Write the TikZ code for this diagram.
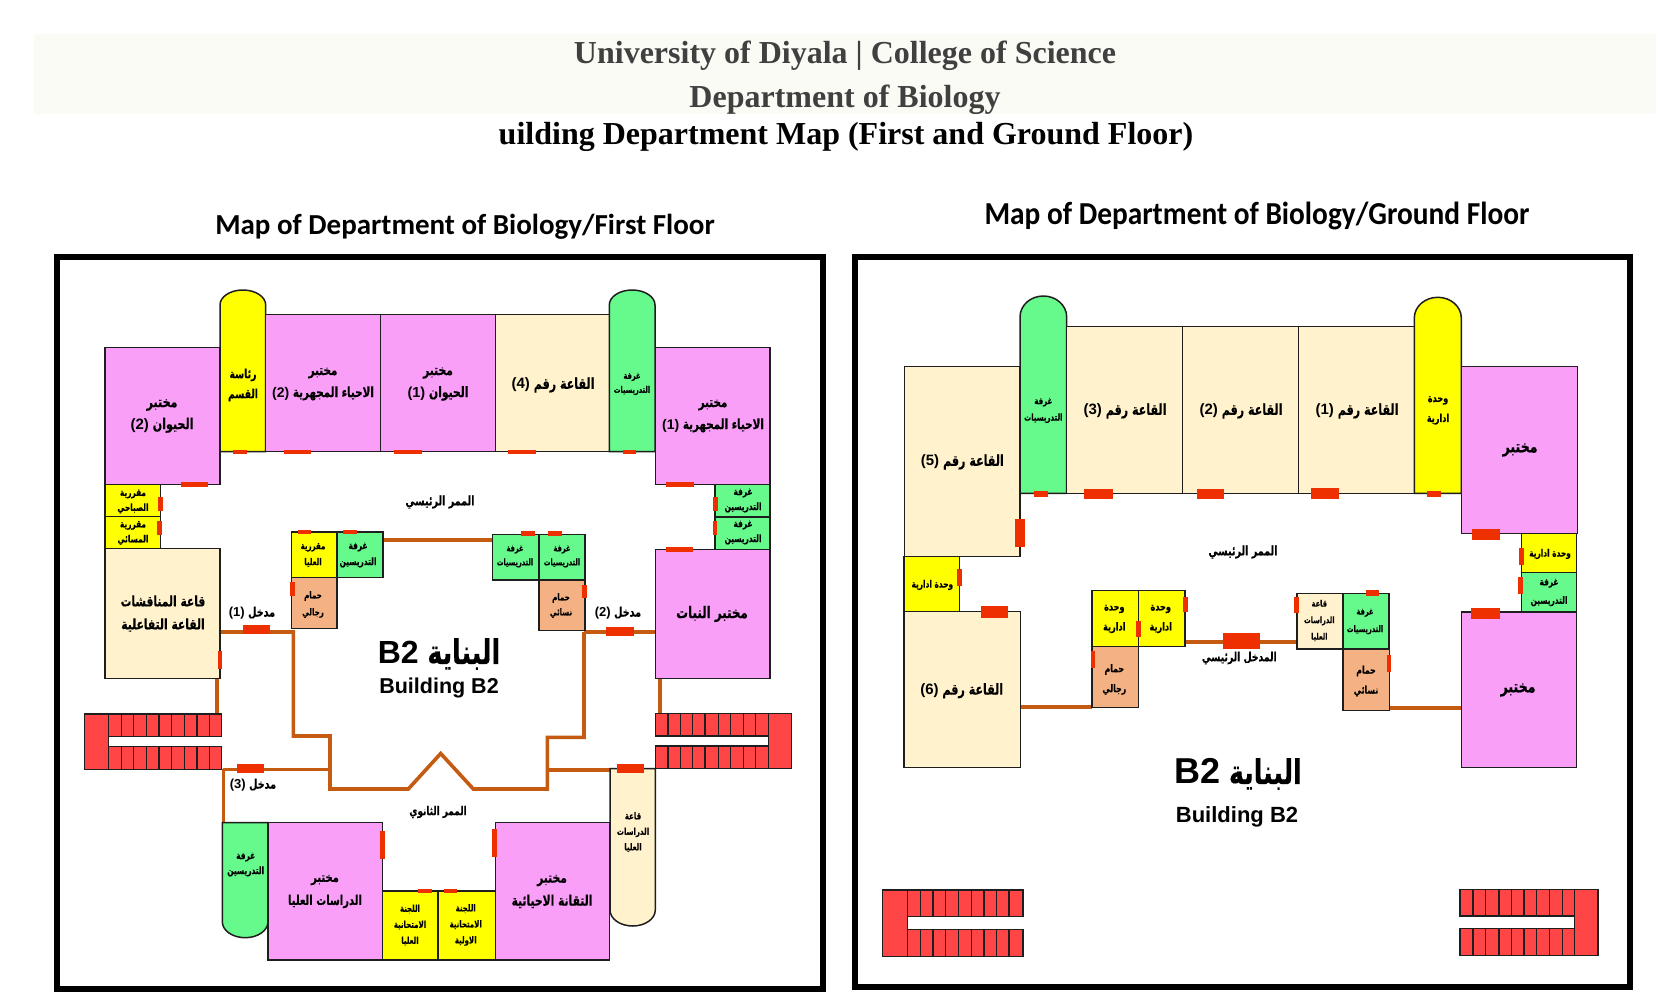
\documentclass[tikz,border=0pt]{standalone}
\usepackage{fontspec}
\usepackage{graphicx}
\TeXXeTstate=1
\setmainfont{Liberation Serif}
\newfontfamily\arfont[Script=Arabic,FakeStretch=0.74,FakeBold=0.3]{DejaVu Sans}
\newfontfamily\heros{Liberation Sans}
\newfontfamily\carlito{Carlito}
\definecolor{pinkroom}{HTML}{F99FF8}
\definecolor{creamroom}{HTML}{FFF2CC}
\definecolor{yellowroom}{HTML}{FFFF00}
\definecolor{greenroom}{HTML}{66F98B}
\definecolor{bathroom}{HTML}{F4B183}
\definecolor{stairred}{HTML}{FF4545}
\definecolor{doorred}{HTML}{EE3000}
\definecolor{corridor}{HTML}{C55A11}
\definecolor{band}{HTML}{FBFBF5}
\definecolor{wall}{HTML}{1E1E1E}
\tikzset{
  wallline/.style={draw=wall,line width=1.5pt},
  corr/.style={draw=corridor,line width=3.6pt,line join=miter},
  arlabel/.style={inner sep=0pt,align=center,text=black},
}
\newcommand{\R}[1]{\beginR #1\endR}
\newcommand{\N}[1]{\beginL{\heros\bfseries #1}\endL}
\newcount\lblno
\newcommand{\lblb}[5]{\global\advance\lblno by 1
  \node[arlabel,font=\arfont\bfseries\fontsize{#3}{#4}\selectfont] (lbl\the\lblno) at (#1,#2) {#5};}
\newcommand{\room}[5]{\path[wallline,fill=#5] (#1,#2) rectangle (#3,#4);}
\newcommand{\door}[4]{\fill[doorred] (#1,#2) rectangle (#3,#4);}
% capsule with dome at top: x1,ystart-of-dome,ytop,x2,ybottom,colour
\newcommand{\capup}[6]{\pgfmathsetmacro{\xm}{(#1+#4)/2}\pgfmathsetmacro{\rx}{(#4-#1)/2}\pgfmathsetmacro{\ry}{#2-#3}
  \pgfmathsetmacro{\ka}{#2-0.5523*\ry}\pgfmathsetmacro{\la}{\xm-0.5523*\rx}\pgfmathsetmacro{\lb}{\xm+0.5523*\rx}
  \path[wallline,fill=#6] (#1,#5) -- (#1,#2) .. controls (#1,\ka) and (\la,#3) .. (\xm,#3) .. controls (\lb,#3) and (#4,\ka) .. (#4,#2) -- (#4,#5) -- cycle;}
\newcommand{\steps}[3]{% y1, y2, list of x
  \foreach \sx [remember=\sx as \px (initially -1)] in {#3} {
    \ifdim\px pt>0pt \path[wallline,fill=stairred] (\px,#1) rectangle (\sx,#2);\fi }}
\begin{document}
\begin{tikzpicture}[x=1pt,y=-1pt]
\useasboundingbox (0,0) rectangle (1673,996);
\fill[white] (0,0) rectangle (1673,996);
% ---- header
\fill[band] (34,33.5) rectangle (1656,114);
\node[inner sep=0pt,text=black!75,font=\bfseries\fontsize{32}{32}\selectfont] (t1) at (845,56) {University of Diyala | College of Science};
\node[inner sep=0pt,text=black!75,font=\bfseries\fontsize{32}{32}\selectfont] (t2) at (845,100) {Department of Biology};
\node[inner sep=0pt,font=\bfseries\fontsize{32}{32}\selectfont] (t3) at (846,136.5) {uilding Department Map (First and Ground Floor)};
\node[inner sep=0pt,font=\carlito\bfseries\fontsize{29}{29}\selectfont] (m1) at (465,227) {Map of Department of Biology/First Floor};
\node[inner sep=0pt,font=\carlito\bfseries\fontsize{32}{32}\selectfont] (m2) at (1257,216) {\scalebox{0.917}[1]{Map of Department of Biology/Ground Floor}};
% ---- frames
\draw[black,line width=6.2pt] (57,257) rectangle (823,989);
\draw[black,line width=6.2pt] (855,257) rectangle (1630,987);

% ==== FIRST FLOOR ====
% corridors
\path[corr] (220,632) -- (293.3,632) -- (293.3,736) -- (330,736) -- (330,789) -- (408.3,789) -- (440.7,753.5) -- (473.3,789) -- (547.3,789) -- (547.3,737.3) -- (584,737.3) -- (584,632);
\path[corr] (584,632) -- (656,632);
\path[corr] (223.3,769.3) -- (330,769.3);
\path[corr] (547.3,770) -- (610,770);
\path[corr] (223.3,769.3) -- (223.3,823);
\path[corr] (216.7,678) -- (216.7,714);
\path[corr] (660,678) -- (660,713);
\path[corr] (383,540) -- (492.7,540);
% rooms
\capup{220}{305}{290}{265.7}{451.7}{yellowroom}
\room{265.7}{314.7}{380.7}{451.7}{pinkroom}
\room{380.7}{314.7}{495.7}{451.7}{pinkroom}
\room{495.7}{314.7}{609.3}{451.7}{creamroom}
\capup{609.3}{305}{290}{655}{451.7}{greenroom}
\room{105}{347.3}{220}{484.3}{pinkroom}
\room{655.3}{347.3}{770}{484.3}{pinkroom}
\room{105}{484.3}{160.3}{516.7}{yellowroom}
\room{105}{516.7}{160.3}{548.7}{yellowroom}
\room{105}{548.7}{220}{678.3}{creamroom}
\room{715}{484.3}{770}{517}{greenroom}
\room{715}{517}{770}{549.3}{greenroom}
\room{655.3}{549.3}{770}{678.3}{pinkroom}
\room{291.3}{532}{337}{577.3}{yellowroom}
\room{337}{532}{383}{577.3}{greenroom}
\room{291.3}{577.3}{337}{628.3}{bathroom}
\room{492.7}{534.3}{539}{580}{greenroom}
\room{539}{534.3}{585}{580}{greenroom}
\room{539}{580}{585}{630.3}{bathroom}
% bottom wing
\pgfmathsetmacro{\kb}{921.7+0.5523*16}
\path[wallline,fill=greenroom] (222.3,822.7) -- (222.3,921.7) .. controls (222.3,\kb) and (232.5,937.7) .. (245.2,937.7) .. controls (257.8,937.7) and (268,\kb) .. (268,921.7) -- (268,822.7) -- cycle;
\room{268}{822.7}{382.3}{960}{pinkroom}
\room{382.3}{891}{438}{960}{yellowroom}
\room{438}{891}{495.3}{960}{yellowroom}
\room{495.3}{822.7}{609.7}{960}{pinkroom}
\pgfmathsetmacro{\kc}{910+0.5523*16}
\path[wallline,fill=creamroom] (610,768.7) -- (610,910) .. controls (610,\kc) and (620.1,926) .. (632.7,926) .. controls (645.2,926) and (655.3,\kc) .. (655.3,910) -- (655.3,768.7) -- cycle;
% stairs
\fill[stairred] (84.3,714) rectangle (108.3,769.3);
\path[wallline] (108.3,736.7) -- (108.3,746.7);
\path[wallline] (108.3,714) -- (84.3,714) -- (84.3,769.3) -- (108.3,769.3);
\steps{714}{736.7}{108.3,121.3,133.7,146.3,159,171.3,184.3,197,209.3,221.7}
\steps{746.7}{769.3}{108.3,121.3,133.7,146.3,159,171.3,184.3,197,209.3,221.7}
\fill[stairred] (768.3,713.3) rectangle (791.3,768.7);
\path[wallline] (768.3,736) -- (768.3,746);
\path[wallline] (768.3,713.3) -- (791.3,713.3) -- (791.3,768.7) -- (768.3,768.7);
\steps{713.3}{736}{655.3,668,680.3,692.7,705,718.3,730.7,743.3,755.7,768.3}
\steps{746}{768.7}{655.3,668,680.3,692.7,705,718.3,730.7,743.3,755.7,768.3}
% doors
\door{233}{449.7}{247}{454.3}\door{283.7}{449.7}{311}{454.3}\door{394}{449.7}{421.7}{454.3}
\door{508}{449.7}{536}{454.3}\door{623}{449.7}{636}{454.3}
\door{666}{482}{694}{487}\door{181}{482}{208.3}{487}
\door{158}{497}{162.7}{511}\door{157}{521}{161.7}{535}
\door{713.3}{497}{718}{511}\door{712.7}{521}{717.3}{535}
\door{666}{547.3}{693.3}{551.7}
\door{298}{529.7}{311}{534.3}\door{343}{529.7}{356.7}{534.3}
\door{290}{581.7}{294.7}{595.7}
\door{521}{531}{535}{535.7}\door{547.7}{531}{561.7}{535.7}
\door{582.3}{585}{587}{597.7}
\door{242.7}{625}{270.3}{634.3}\door{605.7}{627.3}{633.7}{636}
\door{237}{764}{264.3}{772.7}\door{617.3}{764}{644.3}{772.7}
\door{217.7}{650.7}{222.3}{669}
\door{380}{831.3}{384.7}{858.7}\door{492.3}{829}{497}{857}
\door{418}{888.7}{432}{893.3}\door{444}{888.7}{457.3}{893.3}
% labels
\lblb{162}{416}{15}{22}{\R{مختبر}\\\R{الحيوان \N{(2)}}}
\lblb{243}{385}{12.5}{20}{\R{رئاسة}\\\R{القسم}}
\lblb{323}{384}{14}{22}{\R{مختبر}\\\R{الاحياء المجهرية \N{(2)}}}
\lblb{438}{384}{14.5}{22}{\R{مختبر}\\\R{الحيوان \N{(1)}}}
\lblb{553}{385}{15}{16}{\R{القاعة رقم \N{(4)}}}
\lblb{632}{384}{9}{14}{\R{غرفة}\\\R{التدريسيات}}
\lblb{713}{416}{14}{22}{\R{مختبر}\\\R{الاحياء المجهرية \N{(1)}}}
\lblb{133}{501.5}{10}{15}{\R{مقررية}\\\R{الصباحي}}
\lblb{133}{533}{10}{15}{\R{مقررية}\\\R{المسائي}}
\lblb{313}{555}{9.5}{16}{\R{مقررية}\\\R{العليا}}
\lblb{358}{555}{10}{16}{\R{غرفة}\\\R{التدريسين}}
\lblb{515}{556.5}{9}{14}{\R{غرفة}\\\R{التدريسيات}}
\lblb{562}{556.5}{9}{14}{\R{غرفة}\\\R{التدريسيات}}
\lblb{313}{604.5}{9.5}{17}{\R{حمام}\\\R{رجالي}}
\lblb{561}{605.5}{9.5}{15}{\R{حمام}\\\R{نسائي}}
\lblb{440}{502}{13}{14}{\R{الممر الرئيسي}}
\lblb{743}{500.5}{10}{15}{\R{غرفة}\\\R{التدريسين}}
\lblb{743}{532.5}{10}{15}{\R{غرفة}\\\R{التدريسين}}
\lblb{712}{614}{16}{18}{\R{مختبر النبات}}
\lblb{163}{613.5}{14.5}{23}{\R{قاعة المناقشات}\\\R{القاعة التفاعلية}}
\lblb{252}{613}{13}{14}{\R{مدخل \N{(1)}}}
\lblb{618}{613}{13}{14}{\R{مدخل \N{(2)}}}
\lblb{253}{785}{13}{14}{\R{مدخل \N{(3)}}}
\lblb{439}{654}{34}{36}{\R{البناية \N{\fontsize{32}{32}\selectfont B2}}}
\node[inner sep=0pt,font=\heros\bfseries\fontsize{21.5}{21.5}\selectfont] (b1) at (439,688) {Building B2};
\lblb{438}{812}{12}{13}{\R{الممر الثانوي}}
\lblb{633}{832}{9.5}{15.5}{\R{قاعة}\\\R{الدراسات}\\\R{العليا}}
\lblb{245.7}{864.5}{10}{15}{\R{غرفة}\\\R{التدريسين}}
\lblb{325}{891.5}{13.5}{23}{\R{مختبر}\\\R{الدراسات العليا}}
\lblb{552}{891.5}{14.5}{23}{\R{مختبر}\\\R{التقانة الاحيائية}}
\lblb{410}{925}{9.5}{16}{\R{اللجنة}\\\R{الامتحانية}\\\R{العليا}}
\lblb{465.7}{925}{9.5}{16}{\R{اللجنة}\\\R{الامتحانية}\\\R{الاولية}}

% ==== GROUND FLOOR ====
\path[corr] (1020.3,706.7) -- (1092,706.7);
\path[corr] (1185,641.7) -- (1297,641.7);
\path[corr] (1389.3,707.7) -- (1461.3,707.7);
\room{904.3}{366.7}{1020}{556.7}{creamroom}
\capup{1020}{317}{296}{1066.7}{493.3}{greenroom}
\room{1066.7}{326.7}{1182.7}{493.3}{creamroom}
\room{1182.7}{326.7}{1298.7}{493.3}{creamroom}
\room{1298.7}{326.7}{1414.3}{493.3}{creamroom}
\capup{1414.3}{318}{297.3}{1461.3}{493.3}{yellowroom}
\room{1461.3}{366.7}{1577.3}{533.3}{pinkroom}
\room{1521.7}{533.3}{1576.5}{572.5}{yellowroom}
\room{1521.7}{572.5}{1576.5}{611.7}{greenroom}
\room{1461.3}{612}{1576.7}{767.7}{pinkroom}
\room{904}{556.7}{959.3}{611.3}{yellowroom}
\room{904}{611.3}{1020.3}{767.7}{creamroom}
\room{1092}{590.7}{1138.7}{646.7}{yellowroom}
\room{1138.7}{590.7}{1185}{646.7}{yellowroom}
\room{1092}{646.7}{1138.7}{707.7}{bathroom}
\room{1297}{593.3}{1343}{649}{creamroom}
\room{1343}{593.3}{1389}{649}{greenroom}
\room{1343}{649}{1389.3}{710.3}{bathroom}
% stairs
\fill[stairred] (882.5,890) rectangle (907.7,956.7);
\path[wallline] (907.7,916.7) -- (907.7,929.7);
\path[wallline] (907.7,890) -- (882.5,890) -- (882.5,956.7) -- (907.7,956.7);
\steps{890}{916.7}{907.7,920.3,932.9,945.5,958.7,971.3,983.9,996.5,1009,1023.2}
\steps{929.7}{956.7}{907.7,920.3,932.9,945.5,958.7,971.3,983.9,996.5,1009,1023.2}
\fill[stairred] (1574.4,889.3) rectangle (1598,955.7);
\path[wallline] (1574.4,916) -- (1574.4,928.7);
\path[wallline] (1574.4,889.3) -- (1598,889.3) -- (1598,955.7) -- (1574.4,955.7);
\steps{889.3}{916}{1460,1473.1,1485.7,1498.8,1511.4,1524,1536.6,1549.7,1562.3,1574.4}
\steps{928.7}{955.7}{1460,1473.1,1485.7,1498.8,1511.4,1524,1536.6,1549.7,1562.3,1574.4}
% doors
\door{1034}{491.3}{1048}{497.3}\door{1084.3}{489}{1112.7}{499.3}\door{1196.7}{489}{1224}{499.3}
\door{1311}{488}{1339.3}{499.3}\door{1427.3}{491.3}{1441.3}{497.3}\door{1472}{529.3}{1499.7}{540.3}
\door{1015.3}{519}{1024.7}{546.7}\door{957.3}{569}{962}{585.7}\door{980.7}{606.3}{1008.3}{617.7}
\door{1183.3}{596.7}{1188}{612}\door{1136}{621}{1141}{637.3}\door{1090.7}{651}{1095.3}{667.7}
\door{1294}{597}{1298.7}{613.3}\door{1366}{590.3}{1379.3}{596.3}\door{1386.7}{655}{1391.3}{671.7}
\door{1519.3}{548}{1524}{565.3}\door{1518.3}{577.3}{1523}{594.3}\door{1471.3}{608.3}{1499.7}{619}
\door{1223.3}{633.3}{1260}{649}
% labels
\lblb{962.3}{462}{15}{16}{\R{القاعة رقم \N{(5)}}}
\lblb{1043.3}{410.5}{9.5}{16.5}{\R{غرفة}\\\R{التدريسيات}}
\lblb{1125}{411}{15}{16}{\R{القاعة رقم \N{(3)}}}
\lblb{1241}{411}{15}{16}{\R{القاعة رقم \N{(2)}}}
\lblb{1357}{411}{15}{16}{\R{القاعة رقم \N{(1)}}}
\lblb{1438}{410.5}{11}{20}{\R{وحدة}\\\R{ادارية}}
\lblb{1520}{450}{17}{18}{\R{مختبر}}
\lblb{1550}{554}{10}{11}{\R{وحدة ادارية}}
\lblb{1549}{592.5}{10}{18.5}{\R{غرفة}\\\R{التدريسين}}
\lblb{1243}{552}{13}{14}{\R{الممر الرئيسي}}
\lblb{932.3}{585}{10}{11}{\R{وحدة ادارية}}
\lblb{1114.3}{619}{11}{20}{\R{وحدة}\\\R{ادارية}}
\lblb{1160.7}{619}{11}{20}{\R{وحدة}\\\R{ادارية}}
\lblb{1114.3}{679.5}{10.5}{20}{\R{حمام}\\\R{رجالي}}
\lblb{1239.3}{658}{12.5}{13}{\R{المدخل الرئيسي}}
\lblb{1319.3}{620.5}{9}{16.5}{\R{قاعة}\\\R{الدراسات}\\\R{العليا}}
\lblb{1365}{621.5}{9}{17.5}{\R{غرفة}\\\R{التدريسيات}}
\lblb{1366}{681}{10.5}{20}{\R{حمام}\\\R{نسائي}}
\lblb{1518}{690}{17}{18}{\R{مختبر}}
\lblb{961.7}{690.7}{15}{16}{\R{القاعة رقم \N{(6)}}}
\lblb{1238}{774}{34}{38}{\R{البناية \N{\fontsize{36}{36}\selectfont B2}}}
\node[inner sep=0pt,font=\heros\bfseries\fontsize{22}{22}\selectfont] (b2) at (1237,817) {Building B2};
\end{tikzpicture}
\end{document}
